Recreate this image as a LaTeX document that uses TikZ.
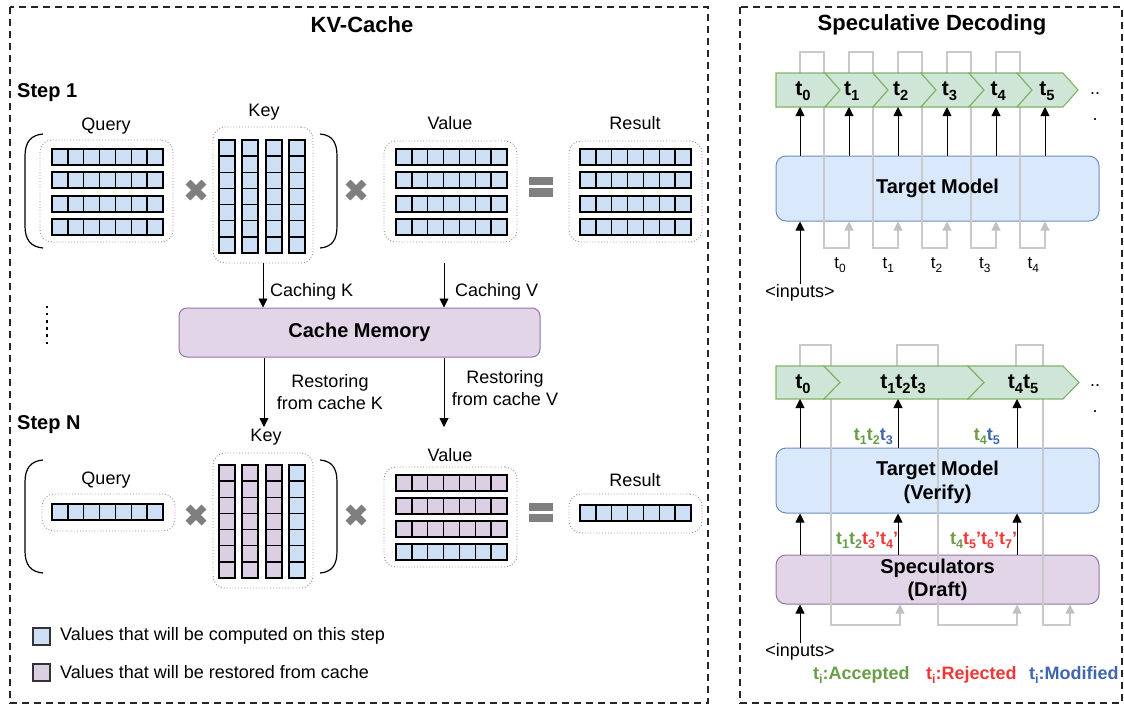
\documentclass[tikz,border=0pt]{standalone}
\usepackage{fontspec}
\setmainfont{Liberation Sans}
\usetikzlibrary{arrows.meta,calc}

\definecolor{cellB}{HTML}{CCDFF4}
\definecolor{cellP}{HTML}{DCCFE4}
\definecolor{boxB}{HTML}{DAE8FC}
\definecolor{boxBline}{HTML}{6C8EBF}
\definecolor{boxP}{HTML}{E1D5E7}
\definecolor{boxPline}{HTML}{9673A6}
\definecolor{stripG}{HTML}{CFE5D7}
\definecolor{stripGline}{HTML}{82B366}
\definecolor{opgray}{HTML}{7F7F7F}
\definecolor{dotgray}{HTML}{8F8F8F}
\definecolor{loopgray}{HTML}{C9C9C9}
\definecolor{loophead}{HTML}{C0C0C0}
\definecolor{accG}{HTML}{6A9D48}
\definecolor{rejR}{HTML}{F23636}
\definecolor{modB}{HTML}{3E67AE}

\newcommand\fs[2]{\fontsize{#1}{#2}\selectfont}
\newcommand\tk[1]{t\raisebox{-0.22em}{\scalebox{0.7}{#1}}}
\newcommand\pr{{\char"0027}}

% a horizontal row of seven cells
\newcommand\cellrow[3]{%
  \foreach \k in {0,...,6}
    \draw[cellstyle, fill=#3] ({#1+\k*15.86},{#2}) rectangle ++(15.86,16);
  \draw[rowframe] ({#1},{#2}) rectangle ++(111,16);}
% a vertical column of seven cells
\newcommand\cellcol[3]{%
  \foreach \k in {0,...,6}
    \draw[cellstyle, fill=#3] ({#1},{#2+\k*16.14}) rectangle ++(16,16.14);
  \draw[rowframe] ({#1},{#2}) rectangle ++(16,113);}
% round brackets around a product
\newcommand\lbrk[2]{%
  \draw[brk] (43,{#1}) .. controls (31,{#1+1}) and (25,{#1+8}) .. (25,{#1+22})
    -- (25,{#2-22}) .. controls (25,{#2-8}) and (31,{#2-1}) .. (43,{#2});}
\newcommand\rbrk[2]{%
  \draw[brk] (320,{#1}) .. controls (332,{#1+1}) and (337,{#1+8}) .. (337,{#1+22})
    -- (337,{#2-22}) .. controls (337,{#2-8}) and (332,{#2-1}) .. (320,{#2});}
% multiplication mark
\newcommand\xmark[2]{%
  \draw[xm] ({#1-8},{#2-8}) -- ({#1+8},{#2+8});
  \draw[xm] ({#1-8},{#2+8}) -- ({#1+8},{#2-8});}

\begin{document}
\begin{tikzpicture}[x=1pt,y=-1pt,
  frame/.style={draw=black!85, line width=1.3, dash pattern=on 7pt off 5pt},
  dotbox/.style={draw=dotgray, line width=0.9, dotted, rounded corners=12, inner sep=0pt, outer sep=0pt},
  cellstyle/.style={draw=black, line width=1.5},
  rowframe/.style={draw=black, line width=2.1},
  brk/.style={draw=black, line width=1.2},
  xm/.style={draw=opgray, line width=7, line cap=butt},
  lbl/.style={font=\fs{18}{21}, inner sep=0pt, text=black},
  ttl/.style={font=\fs{22}{26}\bfseries, inner sep=0pt},
  steplbl/.style={font=\fs{20}{24}\bfseries, inner sep=0pt, anchor=west},
  boxtxt/.style={font=\fs{20}{24}\bfseries, inner sep=0pt, align=center},
  bluebox/.style={draw=boxBline, fill=boxB, line width=1, rounded corners=10, inner sep=0pt},
  purplebox/.style={draw=boxPline, fill=boxP, line width=1, rounded corners=10, inner sep=0pt},
  arr/.style={draw=black, line width=0.9, -{Triangle[length=9pt,width=9pt]}},
  garr/.style={draw=loopgray, line width=1.1, -{Triangle[length=9pt,width=9pt,color=loophead]}},
  strip/.style={draw=stripGline, fill=stripG, line width=1.1},
  tok/.style={font=\fs{21}{24}\bfseries, inner sep=0pt},
  small/.style={font=\fs{17}{20}, inner sep=0pt},
  clbl/.style={font=\fs{18}{21}\bfseries, inner sep=0pt},
]
\useasboundingbox (0,0) rectangle (1124,705);

% ---------------- panel frames and titles ----------------
\draw[frame] (10,7) rectangle (708,703);
\draw[frame] (740,7) rectangle (1122,703);
\node[ttl] (kvtitle) at (362,25) {KV-Cache};
\node[ttl] (sdtitle) at (932,25) {Speculative Decoding};

% ---------------- KV-Cache: step 1 ----------------
\node[steplbl] (step1) at (17,93) {Step 1};
\node[lbl] (qlab1) at (106,126) {Query};
\node[lbl] (klab1) at (264,112) {Key};
\node[lbl] (vlab1) at (450,123) {Value};
\node[lbl] (rlab1) at (635,123) {Result};

\node[dotbox, minimum width=133, minimum height=102] (q1) at (106.5,191) {};
\node[dotbox, minimum width=100, minimum height=136] (k1) at (263,195) {};
\node[dotbox, minimum width=133, minimum height=101] (v1) at (450.5,191.5) {};
\node[dotbox, minimum width=133, minimum height=101] (r1) at (635.5,191.5) {};

\foreach \r in {0,...,3} {\cellrow{52}{149+23.3*\r}{cellB}}
\foreach \c in {0,...,3} {\cellcol{219+23.3*\c}{140}{cellB}}
\foreach \r in {0,...,3} {\cellrow{396}{149+23.3*\r}{cellB}}
\foreach \r in {0,...,3} {\cellrow{580}{149+23.3*\r}{cellB}}

\lbrk{134}{248}
\rbrk{134}{248}
\xmark{196}{190}
\xmark{356}{190}
\fill[opgray] (529,177) rectangle (553,185);
\fill[opgray] (529,188) rectangle (553,197);

% ---------------- cache memory ----------------
\draw[line width=2.3, dash pattern=on 2.3pt off 4.8pt] (47,306) -- (47,346);
\node[purplebox, rounded corners=8, minimum width=361, minimum height=49, font=\fs{20}{24}\bfseries]
  (cache) at (359.5,332.5) {Cache Memory};

\coordinate (cvTop) at (444,263);
\coordinate (rkEnd) at (264,427);
\coordinate (rvEnd) at (444,427);
\draw[arr] (k1.south) -- (k1.south |- cache.north);
\draw[arr] (cvTop) -- (cvTop |- cache.north);
\draw[arr] (cache.south -| rkEnd) -- (rkEnd);
\draw[arr] (cache.south -| rvEnd) -- (rvEnd);
\node[lbl, anchor=west] (cK) at (270,292) {Caching K};
\node[lbl, anchor=west] (cV) at (455,292) {Caching V};
\node[lbl, align=center, font=\fs{18}{22}] (rK) at (330,392) {Restoring\\from cache K};
\node[lbl, align=center, font=\fs{18}{22}] (rV) at (505,388) {Restoring\\from cache V};

% ---------------- KV-Cache: step N ----------------
\node[steplbl] (stepN) at (17,425) {Step N};
\node[lbl] (qlab2) at (106,480) {Query};
\node[lbl] (klab2) at (266,437) {Key};
\node[lbl] (vlab2) at (450,455) {Value};
\node[lbl] (rlab2) at (635,480) {Result};

\node[dotbox, minimum width=133, minimum height=37] (q2) at (108.5,512.5) {};
\node[dotbox, minimum width=100, minimum height=135] (k2) at (263,520.5) {};
\node[dotbox, minimum width=133, minimum height=100] (v2) at (450.5,517) {};
\node[dotbox, minimum width=133, minimum height=39] (r2) at (635.5,513.5) {};

\cellrow{52}{504}{cellB}
\foreach \c/\f in {0/cellP,1/cellP,2/cellP,3/cellB} {\cellcol{219+23.3*\c}{465}{\f}}
\foreach \r/\f in {0/cellP,1/cellP,2/cellP,3/cellB} {\cellrow{396}{475+23*\r}{\f}}
\cellrow{580}{505}{cellB}

\lbrk{460}{573}
\rbrk{460}{573}
\xmark{196}{515}
\xmark{356}{515}
\fill[opgray] (529,503) rectangle (553,511);
\fill[opgray] (529,514) rectangle (553,522);

% ---------------- legend ----------------
\node[draw=black!80, fill=cellB, line width=1.3, minimum size=17, inner sep=0pt] (lg1) at (41.5,636.5) {};
\node[draw=black!80, fill=cellP, line width=1.3, minimum size=17, inner sep=0pt] (lg2) at (41.5,672.5) {};
\node[lbl, anchor=west] (lt1) at (60,636) {Values that will be computed on this step};
\node[lbl, anchor=west] (lt2) at (60,672) {Values that will be restored from cache};

% ---------------- speculative decoding: plain decoding ----------------
\node[bluebox, minimum width=323, minimum height=65] (tm) at (937.5,188.5) {};

% feedback of each generated token into the next step
\foreach \i in {0,...,4} {
  \pgfmathsetmacro\a{800+49*\i}
  \coordinate (fb\i) at ({\a+49},248);
  \draw[garr] (\a,73) -- (\a,52) -- ({\a+24},52) -- ({\a+24},248) -- (fb\i) -- (fb\i |- tm.south);
}

% token strip
\draw[strip] (776,73) -- (825,73) -- (840,90) -- (825,107) -- (776,107) -- cycle;
\foreach \i in {1,...,5} {
  \pgfmathsetmacro\na{825+48*(\i-1)}
  \pgfmathsetmacro\nb{825+48*\i-(\i==5 ? 2 : 0)}
  \draw[strip] (\na,73) -- (\nb,73) -- ({\nb+15},90) -- (\nb,107) -- (\na,107) -- ({\na+15},90) -- cycle;
}
\foreach \i in {0,...,5} {
  \node[tok] (tk\i) at ({803+48.8*\i},91) {\tk{\i}};
  \coordinate (s\i) at ({800+49*\i},107);
  \draw[arr] (tm.north -| s\i) -- (s\i);
}
\node[lbl, align=center, font=\fs{18}{26}] (more1) at (1095,107) {..\\.};

\foreach \i in {0,...,4} {
  \node[small] (tl\i) at ({840+48.3*\i},265) {\tk{\i}};
}
\node[boxtxt] (tmtxt) at (tm.center) {Target Model};
\node[lbl] (in1) at (800,293) {<inputs>};
\draw[arr] (in1.north) -- (in1.north |- tm.south);

% ---------------- speculative decoding: draft and verify ----------------
\node[bluebox, minimum width=323, minimum height=65] (ver) at (937.5,480.5) {};
\node[purplebox, minimum width=323, minimum height=49] (spec) at (937.5,579.5) {};

\coordinate (ga) at (900,625);
\coordinate (gb) at (1017,625);
\coordinate (gc) at (1070,625);
\draw[garr] (800,366) -- (800,345) -- (831,345) -- (831,625) -- (ga) -- (ga |- spec.south);
\draw[garr] (897,366) -- (897,345) -- (938,345) -- (938,625) -- (gb) -- (gb |- spec.south);
\draw[garr] (1016,366) -- (1016,345) -- (1043,345) -- (1043,625) -- (gc) -- (gc |- spec.south);

\draw[strip] (776,366) -- (824,366) -- (840,382.5) -- (824,399) -- (776,399) -- cycle;
\draw[strip] (824,366) -- (968,366) -- (984,382.5) -- (968,399) -- (824,399) -- (840,382.5) -- cycle;
\draw[strip] (968,366) -- (1063,366) -- (1079,382.5) -- (1063,399) -- (968,399) -- (984,382.5) -- cycle;
\node[tok] (vt0) at (803,384) {\tk{0}};
\node[tok] (vt1) at (903,384) {\tk{1}\tk{2}\tk{3}};
\node[tok] (vt2) at (1023,384) {\tk{4}\tk{5}};
\node[lbl, align=center, font=\fs{18}{26}] (more2) at (1095,399) {..\\.};

\foreach \x [count=\j] in {800,898,1017} {
  \coordinate (vs\j) at (\x,399);
  \draw[arr] (ver.north -| vs\j) -- (vs\j);
  \draw[arr] (spec.north -| vs\j) -- (ver.south -| vs\j);
}

\node[boxtxt] (vertxt) at ($(ver.center)+(0,2)$) {Target Model\\(Verify)};
\node[boxtxt, font=\fs{20}{23}\bfseries] (spectxt) at (spec.center) {Speculators\\(Draft)};

\node[clbl, anchor=east] (ok1) at (893,437) {{\color{accG}\tk{1}\tk{2}}{\color{modB}\tk{3}}};
\node[clbl, anchor=east] (ok2) at (1000,437) {{\color{accG}\tk{4}}{\color{modB}\tk{5}}};
\node[clbl, anchor=west] (dr1) at (836,540) {{\color{accG}\tk{1}\tk{2}}{\color{rejR}\tk{3}\pr\tk{4}\pr}};
\node[clbl, anchor=west] (dr2) at (950,540) {{\color{accG}\tk{4}}{\color{rejR}\tk{5}\pr\tk{6}\pr\tk{7}\pr}};

\node[lbl] (in2) at (800,652) {<inputs>};
\draw[arr] (in2.north) -- (in2.north |- spec.south);

\node[clbl, anchor=west, text=accG] (kA) at (813,675) {\tk{i}:Accepted};
\node[clbl, anchor=west, text=rejR] (kR) at (926,675) {\tk{i}:Rejected};
\node[clbl, anchor=west, text=modB] (kM) at (1029,675) {\tk{i}:Modified};
\end{tikzpicture}
\end{document}
